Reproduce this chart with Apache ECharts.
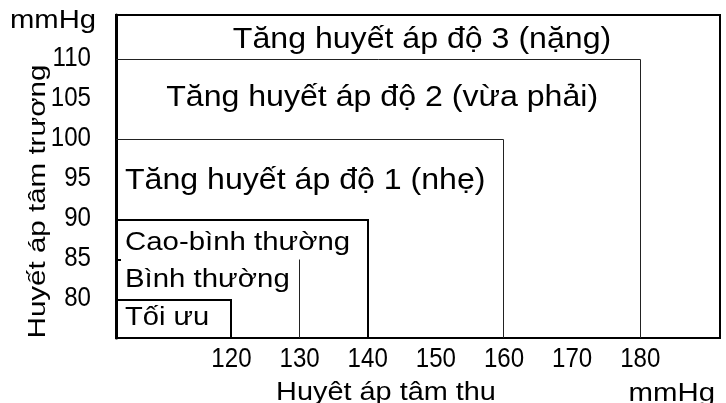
<!DOCTYPE html>
<html>
<head>
<meta charset="utf-8">
<title>Phân loại huyết áp</title>
<style>
  html, body { margin: 0; padding: 0; background: #fff; }
  #chart { width: 726px; height: 403px; }
</style>
</head>
<body>
<div id="chart"></div>
<script src="https://cdn.jsdelivr.net/npm/echarts@6.0.0/dist/echarts.min.js"></script>
<script type="text/javascript">
    // các mức huyết áp, từ nặng đến tối ưu
    var categories = ['Tăng huyết áp độ 3 (nặng)', 'Tăng huyết áp độ 2 (vừa phải)', 'Tăng huyết áp độ 1 (nhẹ)', 'Cao-bình thường', 'Bình thường', 'Tối ưu'];
    // ngưỡng trên huyết áp tâm thu / tâm trương (null = không giới hạn)
    var systolicUpper = [null, 180, 160, 140, 130, 120];
    var diastolicUpper = [null, 110, 100, 90, 85, 80];
    // nhãn trục
    var xTicks = [120, 130, 140, 150, 160, 170, 180];
    var yTicks = [80, 85, 90, 95, 100, 105, 110];

    var X_MIN = 103.06, X_MAX = 191.7, Y_MIN = 75.25, Y_MAX = 115.6;
    var FONT = '"Liberation Sans", Arial, sans-serif';

    // kiểu đường viền và chữ của từng ô
    var boxStyle = [
      null,
      { lineWidth: 1, stroke: '#222' },
      { lineWidth: 1, stroke: '#222' },
      { lineWidth: 2, stroke: '#000' },
      { lineWidth: 1, stroke: '#222', onlyRight: true },
      { lineWidth: 2, stroke: '#000' }
    ];
    var textSize = [30, 30, 30, 26, 26, 26];
    var textStretch = [1.07, 1.07, 1.07, 1.13, 1.13, 1.12];
    var textDy = [0, -4, -1, 1, -2, -3];

    var data = categories.map(function (name, i) {
      return [systolicUpper[i] == null ? X_MAX : systolicUpper[i],
              diastolicUpper[i] == null ? Y_MAX : diastolicUpper[i],
              i < 5 ? diastolicUpper[i + 1] : Y_MIN, i];
    });

    var chart = echarts.init(document.getElementById('chart'));

    function crisp(v, w) {
      return w % 2 === 1 ? Math.round(v - 0.5) + 0.5 : Math.round(v);
    }

    function renderItem(params, api) {
      var i = api.value(3);
      var tl = api.coord([X_MIN, api.value(1)]);
      var br = api.coord([api.value(0), Y_MIN]);
      var lowY = api.coord([X_MIN, api.value(2)])[1];
      var children = [];
      var st = boxStyle[i];
      if (st) {
        var x = crisp(br[0], st.lineWidth), y = crisp(tl[1], st.lineWidth);
        var pts = st.onlyRight ? [[x, y], [x, br[1]]] : [[tl[0], y], [x, y], [x, br[1]]];
        children.push({
          type: 'polyline',
          shape: { points: pts },
          style: { stroke: st.stroke, lineWidth: st.lineWidth, fill: null }
        });
      }
      var centered = i < 2;
      children.push({
        type: 'text',
        x: centered ? (tl[0] + br[0]) / 2 + 4 : tl[0] + 9,
        y: (tl[1] + lowY) / 2 + textDy[i] + 2,
        scaleX: textStretch[i],
        style: {
          text: categories[i],
          align: centered ? 'center' : 'left',
          verticalAlign: 'middle',
          font: textSize[i] + 'px ' + FONT,
          fill: '#000'
        }
      });
      return { type: 'group', children: children };
    }

    // nhãn số trên trục, chữ hẹp
    function tickLabel(params, api) {
      var onX = api.value(2) === 0;
      var p = api.coord([api.value(0), api.value(1)]);
      return {
        type: 'text',
        x: onX ? p[0] : p[0] - 25,
        y: onX ? p[1] + 21 : p[1] - 2,
        scaleX: 0.86,
        style: {
          text: String(onX ? api.value(0) : api.value(1)),
          align: onX ? 'center' : 'right',
          verticalAlign: 'middle',
          font: '28px ' + FONT,
          fill: '#000'
        }
      };
    }

    var tickData = xTicks.map(function (v) { return [v, Y_MIN, 0]; })
      .concat(yTicks.map(function (v) { return [X_MIN, v, 1]; }));

    var option = {
      animation: false,
      grid: {
        left: 116, right: 6, top: 15, bottom: 65,
        show: true, borderColor: '#000', borderWidth: 2
      },
      xAxis: {
        type: 'value', min: X_MIN, max: X_MAX,
        splitLine: { show: false },
        axisLine: { show: true, lineStyle: { color: '#000', width: 2 } },
        axisTick: { show: false },
        axisLabel: { show: false }
      },
      yAxis: {
        type: 'value', min: Y_MIN, max: Y_MAX,
        splitLine: { show: false },
        axisLine: { show: true, lineStyle: { color: '#000', width: 3 } },
        axisTick: { show: true, inside: true, length: 5, customValues: [85], lineStyle: { color: '#000', width: 2 } },
        axisLabel: { show: false }
      },
      graphic: [
        { type: 'text', x: 10, y: 21, scaleX: 1.17, style: { text: 'mmHg', font: '25px ' + FONT, fill: '#000', verticalAlign: 'middle' } },
        { type: 'text', x: 715, y: 394, scaleX: 1.13, style: { text: 'mmHg', font: '26px ' + FONT, fill: '#000', align: 'right', verticalAlign: 'middle' } },
        { type: 'text', x: 386, y: 393, scaleX: 1.11, style: { text: 'Huyêt áp tâm thu', font: '26px ' + FONT, fill: '#000', align: 'center', verticalAlign: 'middle' } },
        { type: 'text', x: 38.5, y: 201.5, rotation: Math.PI / 2, scaleX: 1.23, style: { text: 'Huyết áp tâm trương', font: '24px ' + FONT, fill: '#000', align: 'center', verticalAlign: 'middle' } }
      ],
      series: [{
        type: 'custom',
        renderItem: renderItem,
        data: data,
        clip: false
      }, {
        type: 'custom',
        renderItem: tickLabel,
        data: tickData,
        clip: false
      }]
    };

    chart.setOption(option);
</script>
</body>
</html>
